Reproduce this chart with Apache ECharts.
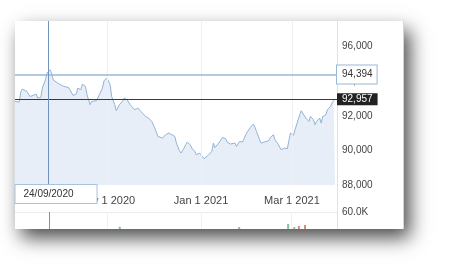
<!DOCTYPE html>
<html><head><meta charset="utf-8">
<script src="https://cdn.jsdelivr.net/npm/echarts@6/dist/echarts.min.js"></script>
<style>html,body{margin:0;padding:0;background:#fff;}#c{width:449px;height:268px;}</style>
</head><body><div id="c"></div>
<script>
const dates = ['2020-09-02','2020-09-05','2020-09-06','2020-09-07','2020-09-08','2020-09-10','2020-09-11','2020-09-12','2020-09-14','2020-09-16','2020-09-17','2020-09-19','2020-09-20','2020-09-22','2020-09-23','2020-09-25','2020-09-26','2020-09-27','2020-09-29',
'2020-10-01','2020-10-02','2020-10-04','2020-10-05','2020-10-07','2020-10-08','2020-10-10','2020-10-12','2020-10-13','2020-10-15','2020-10-16','2020-10-18','2020-10-19','2020-10-21','2020-10-22','2020-10-25','2020-10-26','2020-10-29','2020-10-30',
'2020-11-01','2020-11-03','2020-11-04','2020-11-06','2020-11-07','2020-11-09','2020-11-11','2020-11-12','2020-11-14','2020-11-16','2020-11-19','2020-11-21','2020-11-23','2020-11-26','2020-11-28','2020-11-30',
'2020-12-02','2020-12-04','2020-12-07','2020-12-09','2020-12-11','2020-12-13','2020-12-15','2020-12-16','2020-12-18','2020-12-19','2020-12-21','2020-12-22','2020-12-23','2020-12-25','2020-12-26','2020-12-28','2020-12-29','2020-12-31',
'2021-01-01','2021-01-03','2021-01-04','2021-01-06','2021-01-08','2021-01-09','2021-01-10','2021-01-12','2021-01-13','2021-01-15','2021-01-17','2021-01-18','2021-01-20','2021-01-21','2021-01-23','2021-01-24','2021-01-26','2021-01-27','2021-01-28','2021-01-30',
'2021-02-01','2021-02-02','2021-02-04','2021-02-05','2021-02-06','2021-02-08','2021-02-09','2021-02-11','2021-02-14','2021-02-15','2021-02-17','2021-02-18','2021-02-20','2021-02-22','2021-02-24','2021-02-26','2021-02-27','2021-02-28',
'2021-03-02','2021-03-03','2021-03-05','2021-03-07','2021-03-08','2021-03-10','2021-03-12','2021-03-13','2021-03-15','2021-03-16','2021-03-17','2021-03-19','2021-03-20','2021-03-21','2021-03-23','2021-03-24','2021-03-26','2021-03-27','2021-03-28','2021-03-29'];
const prices = [92830,92795,93373,93547,93448,93408,93373,93119,93177,93258,93026,93061,93604,94084,94471,94662,94471,94084,93951,
93836,93893,93697,93755,93639,93697,93177,93258,93604,93506,93836,93697,93217,92639,92830,92870,93026,93604,94026,
94182,93795,93119,92639,92292,92639,92830,93026,92928,92639,92350,92448,92252,91963,91870,91674,
91292,90807,90714,90905,91003,90905,90807,90425,89980,89847,90136,90327,90483,90327,90136,89940,89749,89847,
89749,89518,89460,89749,89940,90425,90171,90368,90327,90749,90674,90483,90368,90327,90425,90229,90518,90616,90483,90905,
91194,91327,91524,91339,91096,90616,90425,90483,90558,90749,90905,90616,90368,90038,90136,90096,90558,91003,
90865,91194,91772,92292,92159,91870,91674,91963,91772,91483,91674,91870,91581,91963,92061,92350,92541,92737,92870,92957];
const volDates = ['2020-11-09','2021-01-26','2021-02-27','2021-03-03','2021-03-06','2021-03-10'];
const volValues = [39200,38800,43100,38800,40200,41600];
const volDirections = ['up','up','up','up','down','down'];
const xTickLabels = ['Nov 1 2020','Jan 1 2021','Mar 1 2021'];
const xTickDates = ['2020-11-01','2021-01-01','2021-03-01'];
const yTicks = [88000,90000,92000,94000,96000];
const crossDate = '2020-09-24';
const crossDateLabel = '24/09/2020';
const crossValue = 94394;
const volTopLabel = '60.0K';

const FONT = 'Liberation Sans, Arial, sans-serif';
function fmt(v){ return String(Math.round(v)).replace(/\B(?=(\d{3})+(?!\d))/g, ','); }
const lastValue = prices[prices.length-1];

const chart = echarts.init(document.getElementById('c'), null, {renderer:'canvas'});
const option = {
  animation: false,
  textStyle: {fontFamily: FONT},
  graphic: {elements: [
    {type:'rect', z:-10, shape:{x:15,y:21,width:389,height:208},
     style:{fill:'#fff', shadowBlur:18, shadowOffsetX:6, shadowOffsetY:9, shadowColor:'rgba(0,0,0,0.7)'}},
    {type:'line', z:5, shape:{x1:337.5,y1:21,x2:337.5,y2:229}, style:{stroke:'#e2e2e2', lineWidth:1}},
    {type:'line', z:5, shape:{x1:403.5,y1:21,x2:403.5,y2:229}, style:{stroke:'#d6d6d6', lineWidth:1}},
    {type:'line', z:5, shape:{x1:15,y1:212.5,x2:337,y2:212.5}, style:{stroke:'#ececec', lineWidth:1}}
  ]},
  grid: [
    {left:15, top:21, width:322, height:164},
    {left:15, top:212, width:322, height:17}
  ],
  xAxis: [
    {type:'time', gridIndex:0, min:'2020-09-02 06:00:00', max:'2021-03-30 06:00:00',
     axisLine:{show:false}, axisTick:{show:false}, splitLine:{show:false},
     axisLabel:{show:false}},
    {type:'time', gridIndex:1, min:'2020-09-02 06:00:00', max:'2021-03-30 06:00:00',
     axisLine:{show:false}, axisTick:{show:false}, splitLine:{show:false}, axisLabel:{show:false}}
  ],
  yAxis: [
    {type:'value', gridIndex:0, position:'right', min:88000, max:97480, interval:2000,
     axisLine:{show:false}, axisTick:{show:false}, splitLine:{show:false},
     axisLabel:{margin:5, fontSize:10, color:'#444', fontFamily:FONT, showMaxLabel:false,
       formatter: v => yTicks.indexOf(v) >= 0 ? fmt(v) : ''}},
    {type:'value', gridIndex:1, position:'right', min:36000, max:60000, interval:24000,
     axisLine:{show:false}, axisTick:{show:false}, splitLine:{show:false},
     axisLabel:{margin:5, fontSize:10, color:'#444', fontFamily:FONT, showMinLabel:false,
       formatter: v => v === 60000 ? volTopLabel : ''}}
  ],
  series: [
    {type:'line', xAxisIndex:0, yAxisIndex:0, z:3,
     data: dates.map((d,i)=>[d, prices[i]]), symbol:'none', smooth:false,
     lineStyle:{color:'#93b3d6', width:1}, areaStyle:{color:'#e7eef7', opacity:1, origin:'start'},
     markLine:{symbol:'none', silent:true, animation:false,
       data:[
         ...xTickDates.map((d,i)=>({xAxis:d, lineStyle:{color:'#eef0f3', width:1, type:'solid'},
            label:{show:true, position:'start', distance:10, formatter: xTickLabels[i], color:'#444', fontSize:11, fontFamily:FONT}})),
         {yAxis: crossValue, lineStyle:{color:'#9ab7d9', width:1.5, type:'solid'},
          label:{show:true, position:'end', distance:0, formatter: fmt(crossValue), color:'#333', fontSize:10, fontFamily:FONT,
            backgroundColor:'#fff', borderColor:'#9ab7d9', borderWidth:1, padding:[4,4,4,5]}},
         {yAxis: lastValue, lineStyle:{color:'#3a3a3a', width:1, type:'solid'},
          label:{show:true, position:'end', distance:0, formatter: fmt(lastValue), color:'#fff', fontSize:10, fontFamily:FONT,
            backgroundColor:'#222', padding:[1,5,1,5]}},
         {xAxis: crossDate, lineStyle:{color:'#6f93bd', width:1, type:'solid'},
          label:{show:true, position:'start', distance:0, formatter: crossDateLabel, color:'#333', fontSize:10, fontFamily:FONT,
            backgroundColor:'#fff', borderColor:'#a9c1de', borderWidth:1, padding:[4,23,4,8], offset:[7.5,0]}}
       ]}
    },
    {type:'bar', xAxisIndex:1, yAxisIndex:1, barWidth:2, z:3,
     data: volDates.map((d,i)=>({value:[d, volValues[i]], itemStyle:{color: volDirections[i]==='up' ? '#86c195' : '#d98a80'}})),
     markLine:{symbol:'none', silent:true, animation:false, label:{show:false},
       data:[
         ...xTickDates.map(d=>({xAxis:d, lineStyle:{color:'#eef0f3', width:1, type:'solid'}})),
         {xAxis: crossDate, lineStyle:{color:'#6f93bd', width:1, type:'solid'}}
       ]}
    }
  ]
};
chart.setOption(option);
</script></body></html>
